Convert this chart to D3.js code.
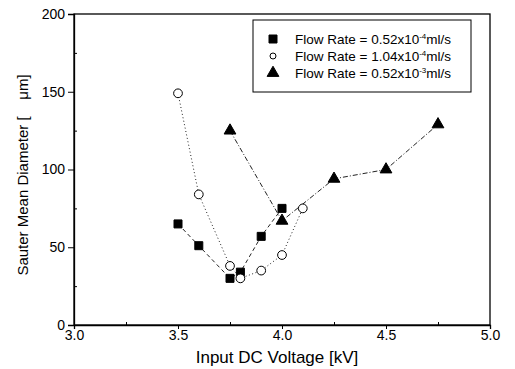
<!DOCTYPE html>
<html>
<head>
<meta charset="utf-8">
<script src="https://cdn.jsdelivr.net/npm/d3@7"></script>
<style>
  body { margin: 0; background: #fff; }
  svg { font-family: "Liberation Sans", Arial, sans-serif; }
</style>
</head>
<body>
<div id="chart"></div>
<script>
// voltage [kV]
const voltsLow = [3.5, 3.6, 3.75, 3.8, 3.9, 4.0];
const diamLow = [65, 51, 30, 34, 57, 75];

const voltsMid = [3.5, 3.6, 3.75, 3.8, 3.9, 4.0, 4.1];
const diamMid = [149, 84, 38, 30, 35, 45, 75];

const voltsHigh = [3.75, 4.0, 4.25, 4.5, 4.75];
const diamHigh = [125, 67, 94, 100, 129];

const xTicks = [3.0, 3.5, 4.0, 4.5, 5.0];
const yTicks = [0, 50, 100, 150, 200];

const legendLabels = [
  ["Flow Rate = 0.52x10", "-4", "ml/s"],
  ["Flow Rate = 1.04x10", "-4", "ml/s"],
  ["Flow Rate = 0.52x10", "-3", "ml/s"],
];

const svgWidth = 515, svgHeight = 369;
const margin = { top: 14, right: 25, bottom: 44, left: 74 };
const width = svgWidth - margin.left - margin.right;
const height = svgHeight - margin.top - margin.bottom;

const svg = d3
  .select("#chart")
  .append("svg")
  .attr("width", svgWidth)
  .attr("height", svgHeight);

const g = svg.append("g").attr("transform", `translate(${margin.left}, ${margin.top})`);

const x = d3.scaleLinear().domain([3.0, 5.0]).range([0, width]);
const y = d3.scaleLinear().domain([0, 200]).range([height, 0]);

// frame
g.append("rect")
  .attr("width", width)
  .attr("height", height)
  .attr("fill", "none")
  .attr("stroke", "#000")
  .attr("stroke-width", 1.3);

// minor ticks (inward)
g.append("g")
  .attr("transform", `translate(0, ${height})`)
  .call(d3.axisTop(x).tickValues([3.25, 3.75, 4.25, 4.75]).tickSize(3).tickFormat(""))
  .call((s) => s.select(".domain").remove());
g.append("g")
  .call(d3.axisRight(y).tickValues([25, 75, 125, 175]).tickSize(3).tickFormat(""))
  .call((s) => s.select(".domain").remove());

// major axes
const xAxis = g
  .append("g")
  .attr("transform", `translate(0, ${height})`)
  .call(d3.axisBottom(x).tickValues(xTicks).tickSize(4).tickPadding(1).tickFormat(d3.format(".1f")));
const yAxis = g
  .append("g")
  .call(d3.axisLeft(y).tickValues(yTicks).tickSize(6).tickPadding(3));

[xAxis, yAxis].forEach((a) => {
  a.select(".domain").attr("stroke-width", 1.3);
  a.selectAll("text").attr("fill", "#000").style("font-size", "14px");
});

// axis titles
svg.append("text")
  .attr("x", margin.left + width / 2 - 5)
  .attr("y", 363)
  .attr("text-anchor", "middle")
  .style("font-size", "17px")
  .text("Input DC Voltage [kV]");

svg.append("text")
  .attr("transform", `translate(28, 175) rotate(-90)`)
  .attr("text-anchor", "middle")
  .style("font-size", "15px")
  .style("white-space", "pre")
  .text("Sauter Mean Diameter [    \u03bcm]");

const line = d3.line().x((d) => x(d[0])).y((d) => y(d[1]));

const series = [
  { pts: d3.zip(voltsLow, diamLow), dash: "4,3", shape: "square" },
  { pts: d3.zip(voltsMid, diamMid), dash: "1,2.5", shape: "circle" },
  { pts: d3.zip(voltsHigh, diamHigh), dash: "5,2,1,2", shape: "triangle" },
];

const symbolOf = {
  square: d3.symbol().type(d3.symbolSquare).size(64),
  circle: d3.symbol().type(d3.symbolCircle).size(60),
  triangle: d3.symbol().type(d3.symbolTriangle).size(60),
};

series.forEach((s) => {
  g.append("path")
    .datum(s.pts)
    .attr("d", line)
    .attr("fill", "none")
    .attr("stroke", "#222")
    .attr("stroke-width", 1)
    .attr("stroke-dasharray", s.dash);
});

series.forEach((s) => {
  g.selectAll(null)
    .data(s.pts)
    .enter()
    .append("path")
    .attr("d", symbolOf[s.shape])
    .attr("transform", (d) => `translate(${x(d[0])}, ${y(d[1])})`)
    .attr("fill", s.shape === "circle" ? "#fff" : "#000")
    .attr("stroke", "#000")
    .attr("stroke-width", 1);
});

// legend
const legend = svg.append("g").attr("transform", "translate(253, 20)");
legend.append("rect")
  .attr("width", 218)
  .attr("height", 72)
  .attr("fill", "#fff")
  .attr("stroke", "#000")
  .attr("stroke-width", 1);

legendLabels.forEach((lab, i) => {
  const row = legend.append("g").attr("transform", `translate(0, ${19 + i * 17})`);
  const shape = series[i].shape;
  row.append("path")
    .attr("d", shape === "circle" ? d3.symbol().type(d3.symbolCircle).size(28)() : symbolOf[shape]())
    .attr("transform", "translate(20, 0)")
    .attr("fill", shape === "circle" ? "#fff" : "#000")
    .attr("stroke", "#000");
  const t = row.append("text")
    .attr("x", 42)
    .attr("y", 5)
    .style("font-size", "13.5px");
  t.append("tspan").text(lab[0]);
  t.append("tspan").attr("dy", -5).style("font-size", "8px").text(lab[1]);
  t.append("tspan").attr("dy", 5).text(lab[2]);
});
</script>
</body>
</html>
